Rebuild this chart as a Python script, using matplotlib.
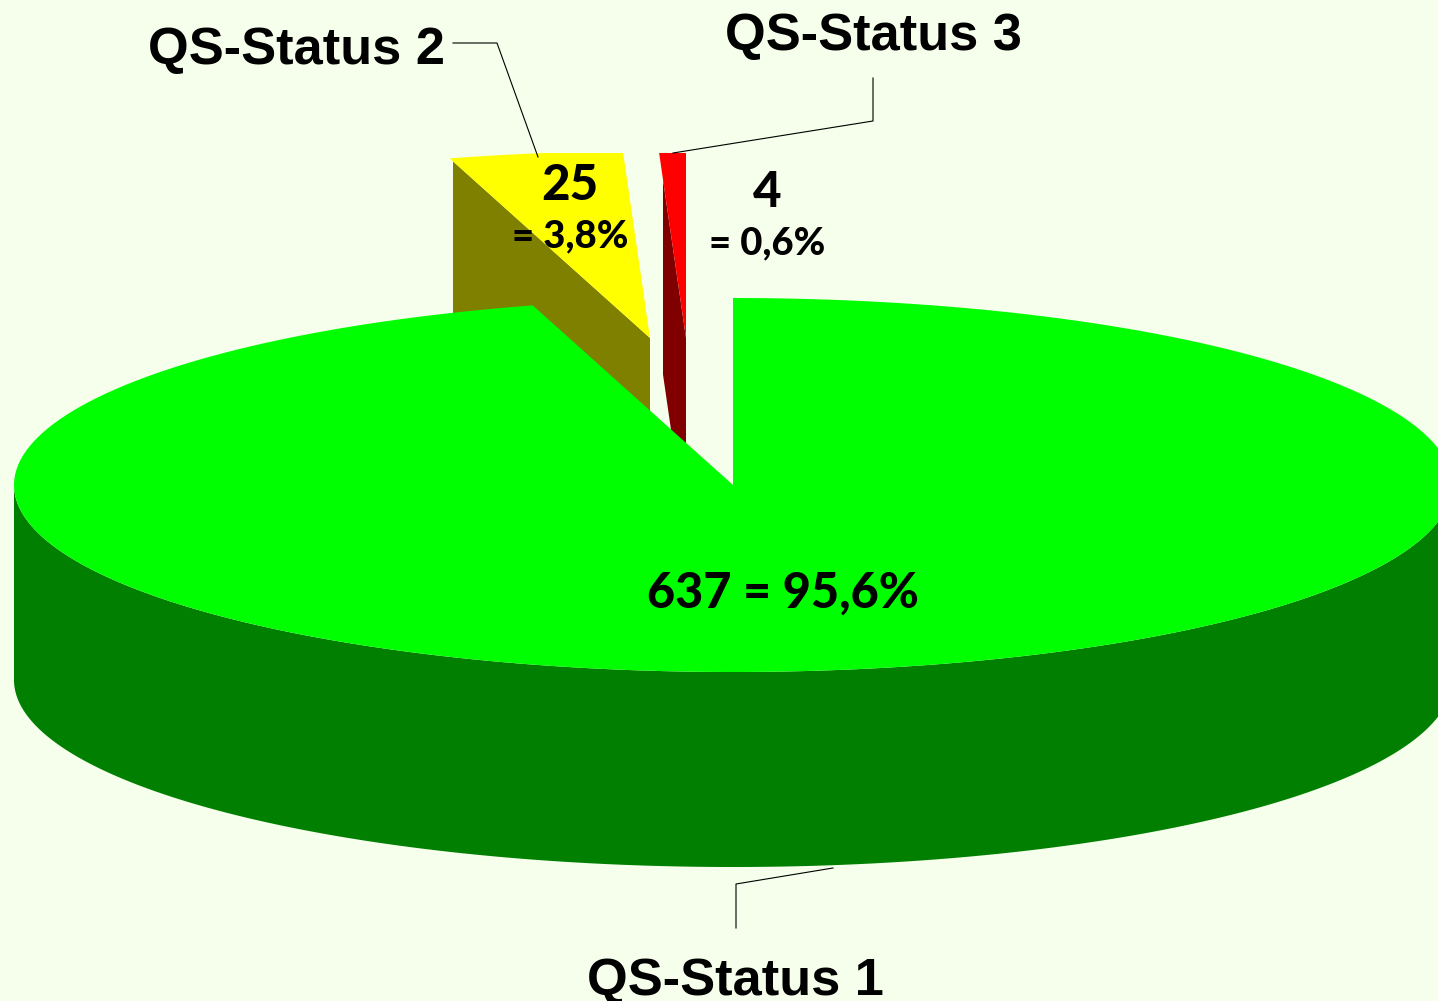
import numpy as np
import matplotlib
matplotlib.use('Agg')
import matplotlib.pyplot as plt
from matplotlib.patches import Polygon, Rectangle

names = ['QS-Status 1', 'QS-Status 2', 'QS-Status 3']
values = [637, 25, 4]
top_colors = ['#00ff00', '#ffff00', '#ff0000']
side_colors = ['#007f00', '#808000', '#800000']
bg = '#f5ffeb'

# the pie lives in image pixels, y pointing down
cx, cy = 733, 485
rx, ry = 719, 187
depth = 195
# pulled-out pieces: where the tip of each slice ends up
tips = [(733, 485), (650, 338), (686, 338)]
side_left = [0, 453, 663]
top_cut = 153


def rim(tip, a0, a1):
    # angles clockwise from 12 o'clock
    t = np.radians(np.linspace(a0, a1, 240))
    return np.column_stack([tip[0] + rx * np.sin(t), tip[1] - ry * np.cos(t)])


fig = plt.figure(figsize=(14.38, 10.01), dpi=100, facecolor=bg)
ax = fig.add_axes([0, 0, 1, 1])
ax.set_xlim(0, 1438)
ax.set_ylim(1001, 0)
ax.axis('off')

angles = np.cumsum([0] + values) / sum(values) * 360
angles[1] -= 0.5  # the original cut sits a touch further round
keep = Rectangle((0, top_cut), 1438, 1001 - top_cut, transform=ax.transData)

# small slices first, the big one covers their lower part
for i in [1, 2]:
    tip = tips[i]
    edge = rim(tip, angles[i], angles[i])[0]
    face = [edge, tip, (tip[0], tip[1] + depth), (edge[0], edge[1] + depth)]
    p = ax.add_patch(Polygon(face, closed=True, fc=side_colors[i], ec='none', zorder=2))
    p.set_clip_path(Rectangle((side_left[i], 0), 1438, 1001, transform=ax.transData))
    pts = np.vstack([[tip], rim(tip, angles[i], angles[i + 1])])
    p = ax.add_patch(Polygon(pts, closed=True, fc=top_colors[i], ec='none', zorder=3))
    p.set_clip_path(keep)

# big slice: wall along the front half, then the top
front = rim(tips[0], 90, 270)
wall = np.vstack([front, front[::-1] + [0, depth]])
ax.add_patch(Polygon(wall, closed=True, fc=side_colors[0], ec='none', zorder=4))
pts = np.vstack([[tips[0]], rim(tips[0], angles[0], angles[1])])
ax.add_patch(Polygon(pts, closed=True, fc=top_colors[0], ec='none', zorder=5))

# leader lines
ax.plot([736, 736, 833], [928, 884, 868], color='black', lw=0.8, zorder=6)
ax.plot([453, 497, 538], [43, 43, 157], color='black', lw=0.8, zorder=6)
ax.plot([873, 873, 673], [78, 121, 153], color='black', lw=0.8, zorder=6)

head = dict(family='Liberation Sans', weight='bold', size=37.7, color='black',
            va='baseline', ha='center', zorder=7)
ax.text(735, 995, names[0], **head)
ax.text(297, 64, names[1], **head)
ax.text(873, 50, names[2], **head)

num = dict(family='Lato', weight=900, color='black', va='baseline', ha='center', zorder=7)
ax.text(783, 608, '637 = 95,6%', size=35, **num)
ax.text(570, 200, '25', size=35.5, **num)
ax.text(570, 247, '= 3,8%', size=27.5, **num)
ax.text(767, 207, '4', size=35.5, **num)
ax.text(767, 254, '= 0,6%', size=27.5, **num)

fig.savefig('out.png', dpi=100, facecolor=bg)
